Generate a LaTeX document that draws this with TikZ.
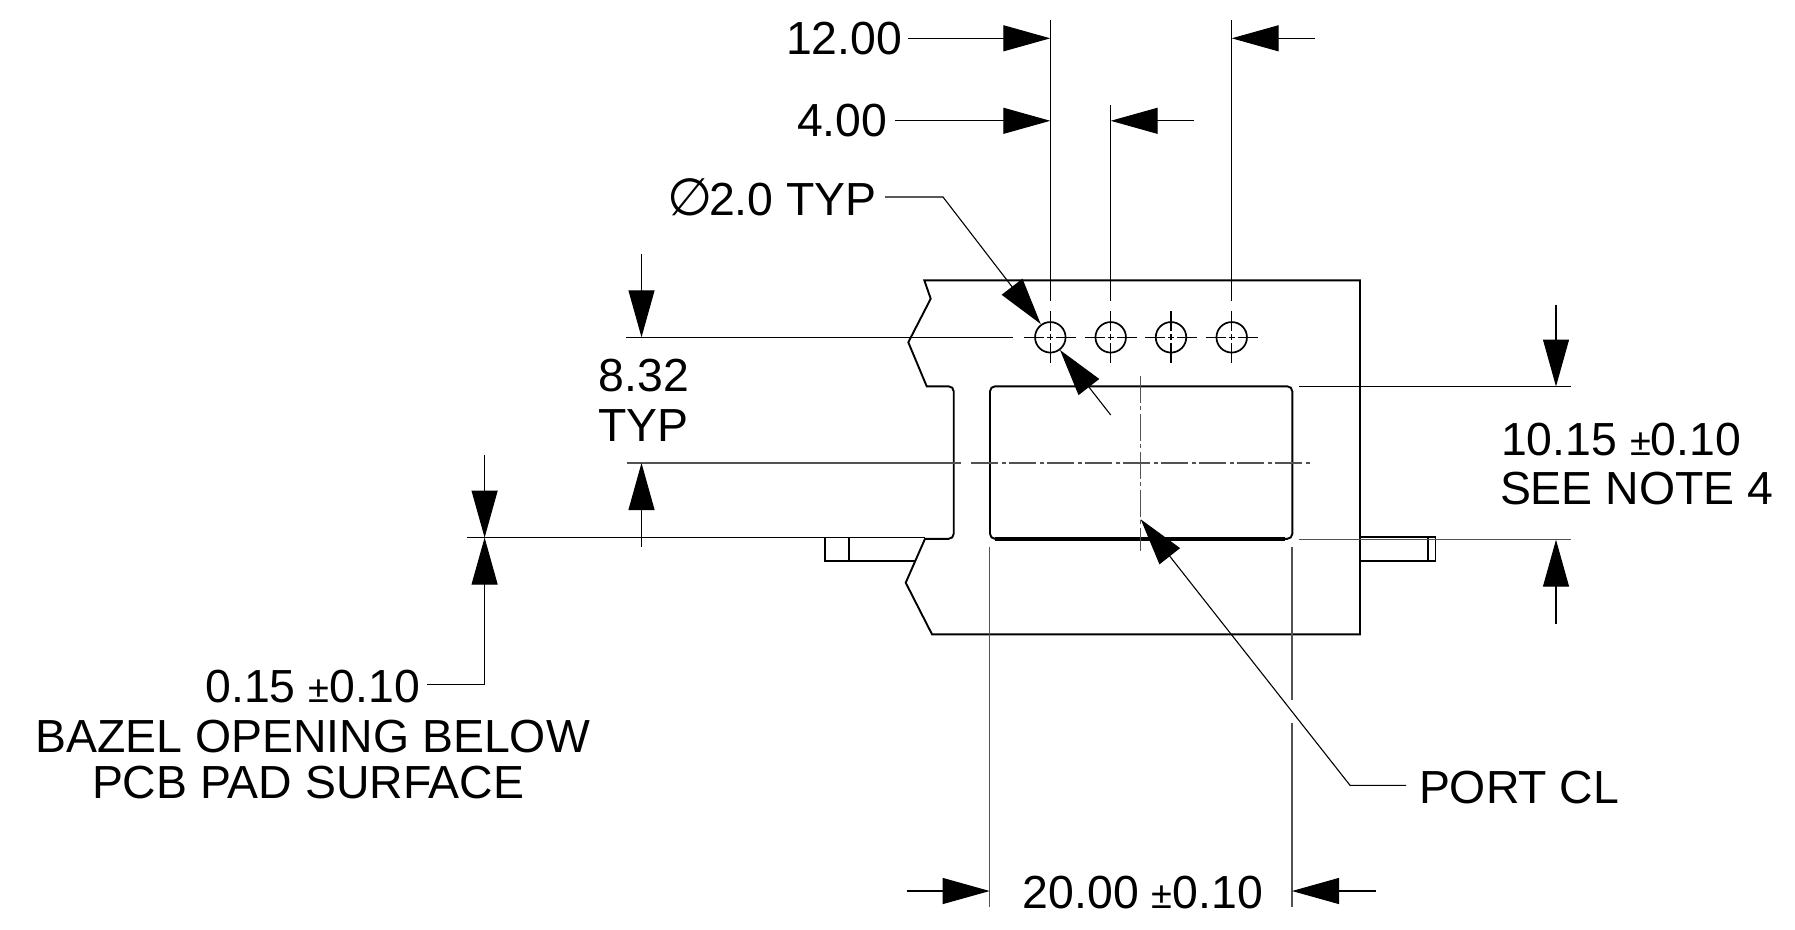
\documentclass[tikz,border=0pt]{standalone}
\usepackage{fontspec}
\setmainfont{Liberation Sans}
\newfontfamily\symfont{DejaVu Sans}
\usetikzlibrary{arrows.meta}
\newcommand{\pmsm}{{\fontsize{38}{38}\selectfont ±}}
\tikzset{
  every node/.style={inner sep=0pt,outer sep=0pt},
  lbl/.style={font=\fontsize{46.4}{50}\selectfont,anchor=base west,text=black},
  outline/.style={line width=1.9pt,black,line join=miter},
  thin line/.style={line width=1.1pt,black},
  grey line/.style={line width=1.3pt,black!68},
  arr/.style={line width=1.1pt,black,-{Triangle[length=47pt,width=26pt]}},
  chain line/.style={grey line,dash pattern=on 27pt off 3.5pt on 4pt off 3.5pt},
  hole/.style={circle,draw,line width=1.7pt,minimum size=30.5pt}
}
\begin{document}
\begin{tikzpicture}[x=1pt,y=-1pt]
\useasboundingbox (0,0) rectangle (1795,929);
% body
\draw[outline] (924.3,280.3) -- (930.7,298.7) -- (908.3,342.3) -- (926.7,386.3)
  [rounded corners=5pt] -- (953.7,386.3) -- (953.7,538.8) [sharp corners] -- (925,538.8)
  -- (905.7,582.7) -- (932,634.3) -- (1360,634.3) -- (1360,280.3) -- cycle;
\draw[outline,rounded corners=5pt] (990,462) -- (990,386.3) -- (1292.3,386.3) -- (1292.3,538.8) -- (990,538.8) -- cycle;
\draw[line width=4pt,black] (995,538.7) -- (1285,538.7);
% tabs
\draw[outline,line width=1.6pt] (915.7,561) -- (825,561) -- (825,537.3) -- (925,537.3);
\draw[outline,line width=1.6pt] (849,537.3) -- (849,561);
\draw[outline,line width=1.6pt] (1360,537) -- (1435.3,537) -- (1435.3,561) -- (1360,561);
\draw[outline,line width=1.6pt] (1428,537) -- (1428,561);
% holes
\foreach \n/\x in {1/1050.3,2/1110.7,3/1171,4/1231.7}{
  \node[hole] (h\n) at (\x,337.3) {};
  \draw[thin line] (\x-26,337.3) -- (\x-6,337.3) (\x-3,337.3) -- (\x+3,337.3) (\x+6,337.3) -- (\x+26,337.3);
  \draw[thin line] (\x,311.3) -- (\x,331.3) (\x,334.3) -- (\x,340.3) (\x,343.3) -- (\x,363.3);
}
% coordinates
\coordinate (e12a) at (1050.3,20);
\coordinate (e12b) at (1050.3,300.7);
\coordinate (e12c) at (1231.7,20);
\coordinate (e12d) at (1231.7,300.7);
\coordinate (e4a) at (1110.7,105);
\coordinate (e4b) at (1110.7,300.7);
% text
\node[lbl] (t12) at (786,54) {12.00};
\node[lbl] (t4) at (797,136.5) {4.00};
\node[font=\fontsize{52}{52}\selectfont\symfont,anchor=base west,text=black] (tdia) at (667,215) {∅};
\node[lbl] (tdib) at (709,215) {2.0 TYP};
\node[lbl] (t832) at (598.5,391.7) {8.32};
\node[lbl] (ttyp) at (598.5,441.7) {TYP};
\node[lbl] (t1015) at (1501,455) {10.15 \pmsm0.10};
\node[lbl] (tsee) at (1500,504.3) {SEE NOTE 4};
\node[lbl] (t015) at (205.5,702.5) {0.15 \pmsm0.10};
\node[lbl] (tbaz) at (35.5,752) {BAZEL OPENING BELOW};
\node[lbl] (tpcb) at (92,798) {PCB PAD SURFACE};
\node[lbl] (tport) at (1419,803.7) {PORT CL};
\node[lbl] (t20) at (1022.7,908) {20.00 \pmsm0.10};
% extension lines
\draw[thin line] (e12a) -- (e12b);
\draw[thin line] (e12c) -- (e12d);
\draw[thin line] (e4a) -- (e4b);
\draw[thin line] (626,337.3) -- (1013,337.3);
\draw[grey line] (626.7,463) -- (960.7,463);
\draw[chain line] (971,463) -- (1310.7,463);
\draw[chain line] (1140.7,375.7) -- (1140.7,550.7);
\draw[thin line] (467,537.6) -- (825,537.6);
\draw[thin line] (1299,386.5) -- (1571,386.5);
\draw[grey line] (1299,539.7) -- (1571,539.7);
\draw[grey line] (989.7,546.7) -- (989.7,906.7);
\draw[grey line] (1292,546.7) -- (1292,700) (1292,722.7) -- (1292,906.7);
% dimension 12.00
\coordinate (a1) at (908,38.3); \coordinate (a2) at (1050.3,38.3);
\coordinate (a3) at (1315,38.3); \coordinate (a4) at (1231.7,38.3);
\draw[arr] (a1) -- (a2);
\draw[arr] (a3) -- (a4);
% dimension 4.00
\coordinate (b1) at (895,120.8); \coordinate (b2) at (1050.3,120.8);
\coordinate (b3) at (1194,120.8); \coordinate (b4) at (1110.7,120.8);
\draw[arr] (b1) -- (b2);
\draw[arr] (b3) -- (b4);
% diameter
\coordinate (c1) at (885,197); \coordinate (c2) at (943,197);
\coordinate (c3) at (1040.7,324);
\coordinate (c4) at (1110.7,415); \coordinate (c5) at (1060,350);
\draw[arr] (c1) -- (c2) -- (c3);
\draw[arr] (c4) -- (c5);
% 8.32
\coordinate (d1) at (641.5,254); \coordinate (d2) at (641.5,337.3);
\coordinate (d3) at (641.5,546.7); \coordinate (d4) at (641.5,463);
\draw[arr] (d1) -- (d2);
\draw[arr] (d3) -- (d4);
% 10.15
\coordinate (f1) at (1556,304.5); \coordinate (f2) at (1556,386.5);
\coordinate (f3) at (1556,624); \coordinate (f4) at (1556,539.7);
\draw[arr] (f1) -- (f2);
\draw[arr] (f3) -- (f4);
% 0.15
\coordinate (g1) at (484.6,454.5); \coordinate (g2) at (484.6,537.6);
\coordinate (g3) at (427,684.7); \coordinate (g4) at (484.6,684.7); \coordinate (g5) at (484.6,537.6);
\draw[arr] (g1) -- (g2);
\draw[arr] (g3) -- (g4) -- (g5);
% 20.00
\coordinate (k1) at (906.7,891); \coordinate (k2) at (989.7,891);
\coordinate (k3) at (1375.7,891); \coordinate (k4) at (1292,891);
\draw[arr] (k1) -- (k2);
\draw[arr] (k3) -- (k4);
% port CL
\coordinate (p1) at (1406,785.3); \coordinate (p2) at (1350,785.3); \coordinate (p3) at (1140.7,519.3);
\draw[arr] (p1) -- (p2) -- (p3);
\end{tikzpicture}
\end{document}
